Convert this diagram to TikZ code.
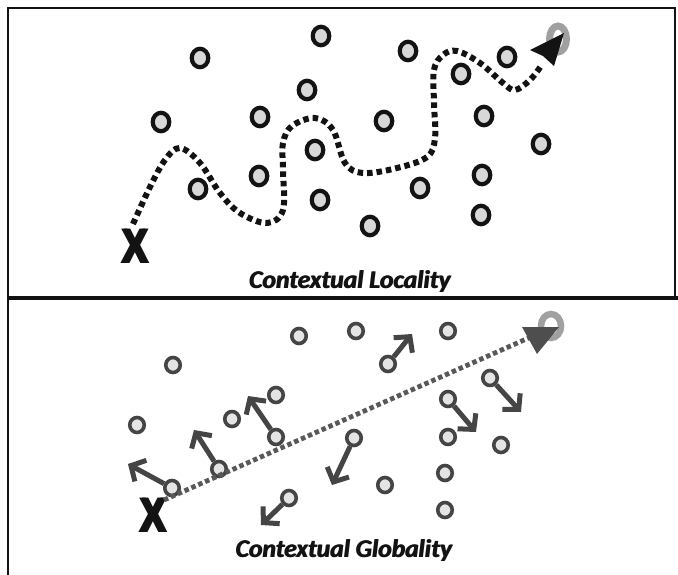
\documentclass[tikz,border=0pt]{standalone}
\usepackage{fontspec}
\newfontfamily\capfont{Carlito}
\newfontfamily\xfont{Liberation Sans}
\usetikzlibrary{shapes.geometric,arrows.meta}
\definecolor{ink}{HTML}{131313}
\definecolor{dotfill}{HTML}{D8D8D8}
\definecolor{gink}{HTML}{454545}
\definecolor{ring}{HTML}{A0A0A0}
\newcommand{\heavy}[2]{\rlap{#2}\kern#1 #2}
\tikzset{
  topdot/.style={ellipse,draw=ink,fill=dotfill,line width=4.2pt,minimum width=16.5pt,minimum height=18.5pt,inner sep=0pt},
  botdot/.style={ellipse,draw=gink,fill=dotfill!70!white,line width=3.6pt,minimum width=14.5pt,minimum height=15pt,inner sep=0pt},
  garrow/.style={draw=gink,line width=5pt,-{Straight Barb[length=11pt,width=24pt]}},
  toppath/.style={draw=ink,line width=6pt,dash pattern=on 5.5pt off 4pt},
  botpath/.style={draw=gink!90,line width=4.8pt,dash pattern=on 4.5pt off 3pt},
  bigx/.style={font=\xfont\bfseries\fontsize{50}{50}\selectfont,text=ink,inner sep=0pt,xscale=0.8},
  caption/.style={font=\capfont\bfseries\itshape\fontsize{25.5}{25.5}\selectfont,text=ink,inner sep=0pt}
}
\begin{document}
\begin{tikzpicture}[x=1pt,y=-1pt]
\useasboundingbox (0,0) rectangle (678,575);
% frame
\draw[line width=2.4pt,ink] (8,575) -- (8,8) -- (675,8) -- (675,298);
\draw[line width=4pt,ink] (8,298) -- (678,298);

% ---------- top panel ----------
\foreach \n/\x/\y in {t1/200/58, t2/321/36, t3/408/51, t4/507/57, t5/461/74, t6/307/90,
  t7/161/122, t8/260/117, t9/384/121, t10/484/116, t11/541/144, t12/315/150,
  t13/198/189, t14/259/176, t15/320/200, t16/420/188, t17/482/175, t18/370/226, t19/481/215}
  \node[topdot] (\n) at (\x,\y) {};

\node[ellipse,draw=ring,line width=7pt,minimum width=17pt,minimum height=26pt,inner sep=0pt] (tgoal) at (558,39) {};
\node[bigx] (tx) at (135,246) {\heavy{3.5pt}{X}};

\draw[toppath] plot[smooth,tension=0.6] coordinates {(133,224) (150,187) (165,160) (180,148) (200,163) (220,193) (240,213) (267,223) (283,210) (283,170) (283,143) (292,126) (315,118) (333,130) (345,163) (363,173) (397,168) (427,157) (435,138) (434,103) (434,70) (443,55) (457,51) (480,63) (503,83) (515,90) (530,80) (541,66)};
\coordinate (ttip) at (564,33);
\fill[ink] (ttip) -- (530,50) -- (543,56) -- (554,66) -- cycle;

\node[caption] (tcap) at (350,282) {\heavy{1pt}{Contextual Locality}};

% ---------- bottom panel ----------
\foreach \n/\x/\y in {b1/173/365, b2/299/336, b3/356/331, b4/448/331, b5/388/364,
  b6/137/425, b7/232/419, b8/276/395, b9/276/437, b10/490/378, b11/448/399,
  b12/219/469, b13/172/488, b14/354/438, b15/448/437, b16/501/445,
  b17/289/498, b18/385/485, b19/445/473, b20/445/510}
  \node[botdot] (\n) at (\x,\y) {};

\node[ellipse,draw=ring,line width=6.5pt,minimum width=20pt,minimum height=24pt,inner sep=0pt] (bgoal) at (551,326) {};
\node[bigx] (bx) at (153,515) {\heavy{3.5pt}{X}};

\coordinate (bend) at (533,336);
\draw[botpath] (164,500) -- (bend);
\fill[gink!95] (522,327) -- (559,327) -- (537,354) -- cycle;

\coordinate (e13) at (128,464);
\coordinate (e12) at (194,430);
\coordinate (e9) at (248,396);
\coordinate (e17) at (261,525);
\coordinate (e5) at (412,334);
\coordinate (e10) at (521,412);
\coordinate (e11) at (476,432);
\coordinate (e14) at (332,485);
\draw[garrow] (b13) -- (e13);
\draw[garrow] (b12) -- (e12);
\draw[garrow] (b9) -- (e9);
\draw[garrow] (b17) -- (e17);
\draw[garrow] (b5) -- (e5);
\draw[garrow] (b10) -- (e10);
\draw[garrow] (b11) -- (e11);
\draw[garrow] (b14) -- (e14);

\node[caption] (bcap) at (344,551) {\heavy{1pt}{Contextual Globality}};
\end{tikzpicture}
\end{document}
